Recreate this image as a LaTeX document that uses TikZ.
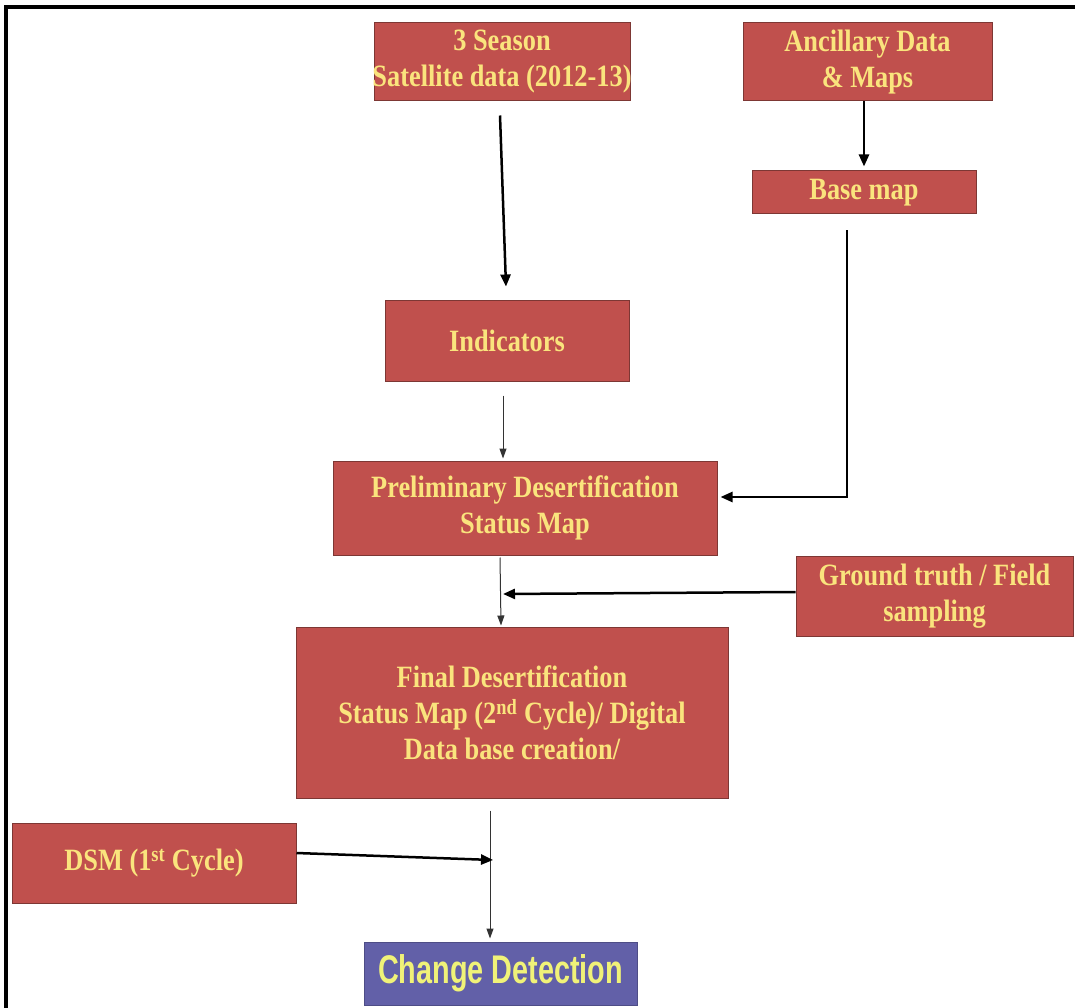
\documentclass[tikz,border=0pt]{standalone}
\usepackage{fontspec}
\usetikzlibrary{arrows.meta}
\newfontfamily\boxfont[FakeStretch=0.85]{Liberation Serif Bold}
\newfontfamily\cdfont[FakeStretch=0.72]{Liberation Sans Bold}
\definecolor{boxred}{RGB}{192,80,77}
\definecolor{boxedge}{RGB}{125,55,52}
\definecolor{txtyel}{RGB}{250,228,125}
\definecolor{cdblue}{RGB}{98,96,168}
\definecolor{cdyel}{RGB}{240,242,120}
\tikzset{
  rbox/.style={draw=boxedge, line width=1pt, fill=boxred, text=txtyel, align=center,
    inner sep=0pt, font=\boxfont\fontsize{31}{36}\selectfont},
  cdbox/.style={draw=cdblue!80!black, line width=1pt, fill=cdblue, text=cdyel, inner sep=0pt,
    font=\cdfont\fontsize{40}{44}\selectfont},
  thickarr/.style={line width=2.5pt, -{Triangle[length=12pt,width=10pt]}},
  thinarr/.style={line width=1pt, draw=black!80, -{Triangle[length=10pt,width=7pt]}},
}
\begin{document}
\begin{tikzpicture}[x=1pt,y=-1pt]
\useasboundingbox (0,0) rectangle (1075,1008);
\fill[white] (0,0) rectangle (1075,1008);
% frame
\draw[line width=4pt, black] (6,1008) -- (6,7) -- (1075,7);

% boxes
\node[rbox, minimum width=256pt, minimum height=78pt] (sat) at (502,62) {3 Season\\\makebox[250pt][c]{Satellite data (2012-13)}};
\node[rbox, minimum width=249pt, minimum height=78pt] (anc) at (867.5,62) {Ancillary Data\\\& Maps};
\node[rbox, minimum width=224pt, minimum height=43pt] (base) at (864,192.5) {Base map};
\node[rbox, minimum width=244pt, minimum height=81pt] (ind) at (507,340.5) {Indicators};
\node[rbox, minimum width=384pt, minimum height=94pt] (prelim) at (525,508) {Preliminary Desertification\\Status Map};
\node[rbox, minimum width=277pt, minimum height=80pt] (ground) at (934.5,596) {Ground truth / Field\\sampling};
\node[rbox, minimum width=432pt, minimum height=171pt] (final) at (512,712.5) {Final Desertification\\Status Map (2\textsuperscript{nd} Cycle)/ Digital\\Data base creation/};
\node[rbox, minimum width=284pt, minimum height=80pt] (dsm) at (154,863) {DSM (1\textsuperscript{st} Cycle)};
\node[cdbox, minimum width=273pt, minimum height=63pt] (cd) at (500.5,973.5) {Change Detection};

% junction coordinates
\coordinate (bm) at (847,497);
\coordinate (gt) at (503,594);
\coordinate (dj) at (493,860);

% connectors
\draw[thickarr] ([xshift=-2pt,yshift=-14pt]sat.south) -- ([xshift=-1pt,yshift=13pt]ind.north);
\draw[thickarr] (anc.south -| base.north) -- ([yshift=4pt]base.north);
\draw[thickarr] ([xshift=-17pt,yshift=-16pt]base.south) -- (bm) -- ([xshift=3pt,yshift=11pt]prelim.east);
\draw[thinarr] ([xshift=-4pt,yshift=-14pt]ind.south) -- ([xshift=-22pt,yshift=2pt]prelim.north);
\draw[thinarr] ([xshift=-25pt,yshift=-2pt]prelim.south) -- ([xshift=-11pt,yshift=1pt]final.north);
\draw[thickarr] ([yshift=4pt]ground.west) -- (gt);
\draw[thinarr] ([xshift=-22pt,yshift=-12pt]final.south) -- ([xshift=-10.5pt,yshift=3pt]cd.north);
\draw[thickarr] ([yshift=10pt]dsm.east) -- (dj);
\end{tikzpicture}
\end{document}
